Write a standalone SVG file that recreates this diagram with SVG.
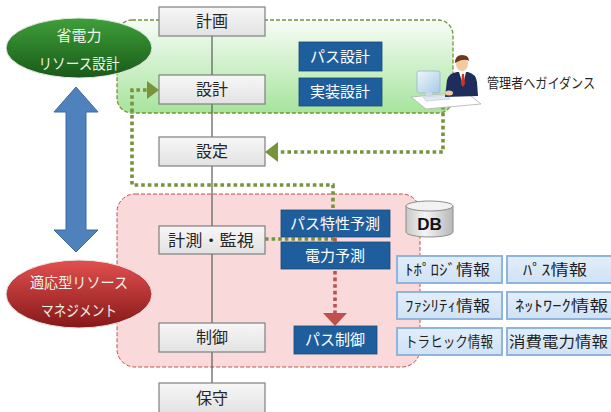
<svg xmlns="http://www.w3.org/2000/svg" width="611" height="412" viewBox="0 0 611 412">
  <defs>
    <linearGradient id="gGreenZone" x1="0" y1="0" x2="0" y2="1">
      <stop offset="0" stop-color="#f7fcf6"/>
      <stop offset="1" stop-color="#a6e49c"/>
    </linearGradient>
    <linearGradient id="gGreenEll" x1="0" y1="0" x2="0" y2="1">
      <stop offset="0" stop-color="#3f9f3a"/>
      <stop offset="1" stop-color="#185a18"/>
    </linearGradient>
    <linearGradient id="gRedEll" x1="0" y1="0" x2="0" y2="1">
      <stop offset="0" stop-color="#e2504f"/>
      <stop offset="1" stop-color="#861818"/>
    </linearGradient>
    <linearGradient id="gGray" x1="0" y1="0" x2="0" y2="1">
      <stop offset="0" stop-color="#f7f7f7"/>
      <stop offset="1" stop-color="#e2e2e2"/>
    </linearGradient>
    <linearGradient id="gInfo" x1="0" y1="0" x2="0" y2="1">
      <stop offset="0" stop-color="#e3eefa"/>
      <stop offset="1" stop-color="#cfe2f5"/>
    </linearGradient>
    <linearGradient id="gDb" x1="0" y1="0" x2="1" y2="0">
      <stop offset="0" stop-color="#c8c8c8"/>
      <stop offset="0.4" stop-color="#f4f4f4"/>
      <stop offset="1" stop-color="#b8b8b8"/>
    </linearGradient>
    <linearGradient id="gMonitor" x1="0" y1="0" x2="1" y2="1">
      <stop offset="0" stop-color="#eef6fc"/>
      <stop offset="1" stop-color="#a9c9e6"/>
    </linearGradient>
  </defs>
  <style>
    text { font-family: "Noto Sans CJK JP", "Noto Sans", sans-serif; text-anchor: middle; }
    .step rect { fill: url(#gGray); stroke: #7f7f7f; stroke-width: 1.2; }
    .step text { font-size: 16px; fill: #262626; }
    .task rect { fill: #1f5e9c; stroke: #17497a; stroke-width: 0.8; }
    .task text { font-size: 15px; fill: #ffffff; }
    .info rect { fill: url(#gInfo); stroke: #8fb4df; stroke-width: 2; }
    .info text { font-size: 15px; fill: #1f1f1f; }
    .ell text { font-size: 15px; fill: #eef4ea; }
    .dotg { fill: none; stroke: #77933c; stroke-width: 3.6; stroke-dasharray: 3.6 3; }
    .dotr { fill: none; stroke: #c0504d; stroke-width: 3.6; stroke-dasharray: 3.6 3; }
  </style>

  <!-- zones -->
  <g id="zone-design">
    <rect x="117" y="20" width="336" height="93" rx="15" fill="url(#gGreenZone)" stroke="#77933c" stroke-width="1.3" stroke-dasharray="4 2"/>
  </g>
  <g id="zone-adaptive">
    <rect x="117" y="194" width="303" height="173" rx="18" fill="#f9d9d9" stroke="#c0504d" stroke-width="1" stroke-dasharray="4 2"/>
  </g>

  <!-- lifecycle spine -->
  <line x1="212" y1="36" x2="212" y2="383" stroke="#595959" stroke-width="1.2"/>

  <!-- connectors -->
  <g id="connectors">
    <polyline class="dotg" points="265,239 333,239 333,185 132,185 132,90 147,90"/>
    <polygon points="147,81 159,90 147,99" fill="#77933c"/>
    <polyline class="dotg" points="443,106 443,152 278,152"/>
    <polygon points="278,142 265,152 278,162" fill="#77933c"/>
    <line class="dotr" x1="335" y1="238" x2="335" y2="313"/>
    <polygon points="323,313 347,313 335,326" fill="#c0504d"/>
    <!-- two-way arrow between the two ellipses -->
    <polygon points="76,87 98,112 86,112 86,230 98,230 76,252 54,230 66,230 66,112 54,112" fill="#4f81bd" stroke="#3b6aa3" stroke-width="1"/>
  </g>

  <!-- ellipses -->
  <g id="ell-green" class="ell">
    <ellipse cx="79" cy="48" rx="73" ry="30" fill="url(#gGreenEll)" stroke="#e8e8e8" stroke-width="1"/>
    <text x="79" y="41">省電力</text>
    <text x="79" y="69" textLength="81" lengthAdjust="spacingAndGlyphs">リソース設計</text>
  </g>
  <g id="ell-red" class="ell">
    <ellipse cx="79" cy="294" rx="73" ry="34" fill="url(#gRedEll)" stroke="#e8e8e8" stroke-width="1"/>
    <text x="79" y="288" textLength="98" lengthAdjust="spacingAndGlyphs">適応型リソース</text>
    <text x="79" y="316" textLength="76" lengthAdjust="spacingAndGlyphs">マネジメント</text>
  </g>

  <!-- lifecycle steps -->
  <g id="step-plan" class="step"><rect x="159" y="7" width="106" height="29"/><text x="212" y="27">計画</text></g>
  <g id="step-design" class="step"><rect x="159" y="75" width="106" height="29"/><text x="212" y="95">設計</text></g>
  <g id="step-config" class="step"><rect x="159" y="137" width="106" height="29"/><text x="212" y="157">設定</text></g>
  <g id="step-monitor" class="step"><rect x="159" y="226" width="106" height="28"/><text x="211" y="246" textLength="86" lengthAdjust="spacingAndGlyphs">計測・監視</text></g>
  <g id="step-control" class="step"><rect x="159" y="323" width="106" height="29"/><text x="212" y="343">制御</text></g>
  <g id="step-maint" class="step"><rect x="159" y="383" width="106" height="30"/><text x="212" y="404">保守</text></g>

  <!-- design tasks -->
  <g id="task-pathdesign" class="task"><rect x="299" y="42" width="83" height="29"/><text x="340" y="62">パス設計</text></g>
  <g id="task-impl" class="task"><rect x="299" y="78" width="83" height="28"/><text x="340" y="97">実装設計</text></g>
  <!-- adaptive tasks -->
  <g id="task-pathpred" class="task"><rect x="281" y="210" width="109" height="27"/><text x="335" y="229">パス特性予測</text></g>
  <g id="task-powerpred" class="task"><rect x="281" y="242" width="109" height="27"/><text x="335" y="261">電力予測</text></g>
  <g id="task-pathctl" class="task"><rect x="294" y="326" width="83" height="28"/><text x="335" y="345">パス制御</text></g>

  <!-- database -->
  <g id="db">
    <path d="M406,206 L406,232 A23.5,5 0 0 0 453,232 L453,206" fill="url(#gDb)" stroke="#8c8c8c" stroke-width="1"/>
    <ellipse cx="429.5" cy="206" rx="23.5" ry="5" fill="#f2f2f2" stroke="#8c8c8c" stroke-width="1"/>
    <text x="429.5" y="230" style="font-family:'Liberation Sans',Arial,sans-serif;font-weight:bold;font-size:17px;fill:#111">DB</text>
  </g>

  <!-- stored information -->
  <g id="info-topology" class="info"><rect x="397" y="256" width="105" height="27"/><text x="447.5" y="275" textLength="85" lengthAdjust="spacingAndGlyphs">ﾄﾎﾟﾛｼﾞ情報</text></g>
  <g id="info-path" class="info"><rect x="507" y="256" width="105" height="27"/><text x="555" y="275" textLength="64" lengthAdjust="spacingAndGlyphs">ﾊﾟｽ情報</text></g>
  <g id="info-facility" class="info"><rect x="397" y="292" width="105" height="27"/><text x="447.5" y="311" textLength="85" lengthAdjust="spacingAndGlyphs">ﾌｧｼﾘﾃｨ情報</text></g>
  <g id="info-network" class="info"><rect x="507" y="292" width="105" height="27"/><text x="561.5" y="311" textLength="93" lengthAdjust="spacingAndGlyphs">ﾈｯﾄﾜｰｸ情報</text></g>
  <g id="info-traffic" class="info"><rect x="397" y="328" width="105" height="27"/><text x="449" y="347" textLength="88" lengthAdjust="spacingAndGlyphs">トラヒック情報</text></g>
  <g id="info-power" class="info"><rect x="507" y="328" width="105" height="27"/><text x="558.5" y="347" textLength="99" lengthAdjust="spacingAndGlyphs">消費電力情報</text></g>

  <!-- administrator at a workstation -->
  <g id="admin">
    <polygon points="411,97 466,92 481,104 426,109" fill="#ffffff" stroke="#b0b0b0" stroke-width="0.8"/>
    <rect x="417" y="71" width="23" height="22" rx="2" fill="url(#gMonitor)" stroke="#9bb5cc" stroke-width="0.8"/>
    <rect x="426" y="92" width="6" height="4" fill="#c8d8e6"/>
    <polygon points="423,97 447,95 450,99 426,101" fill="#dfe9f2" stroke="#a8bccc" stroke-width="0.5"/>
    <path d="M445,97 L447,80 Q449,73 457,72 L468,72 Q476,74 477,82 L478,96 Z" fill="#1f2d5c"/>
    <polygon points="459,72 466,72 463,85" fill="#ffffff"/>
    <polygon points="462,74 464,74 465,84 463,87 461,84" fill="#d8301f"/>
    <ellipse cx="462" cy="64" rx="6" ry="7" fill="#f3c9a0"/>
    <path d="M455,63 Q455,55 462,55 Q469,55 469,61 L467,60 Q462,59 457,62 Z" fill="#6b3a1c"/>
    <ellipse cx="449" cy="93" rx="4" ry="2.5" fill="#f3c9a0"/>
  </g>
  <text x="487" y="88" textLength="108" lengthAdjust="spacingAndGlyphs" style="font-size:14px;fill:#262626;text-anchor:start">管理者へガイダンス</text>
</svg>
